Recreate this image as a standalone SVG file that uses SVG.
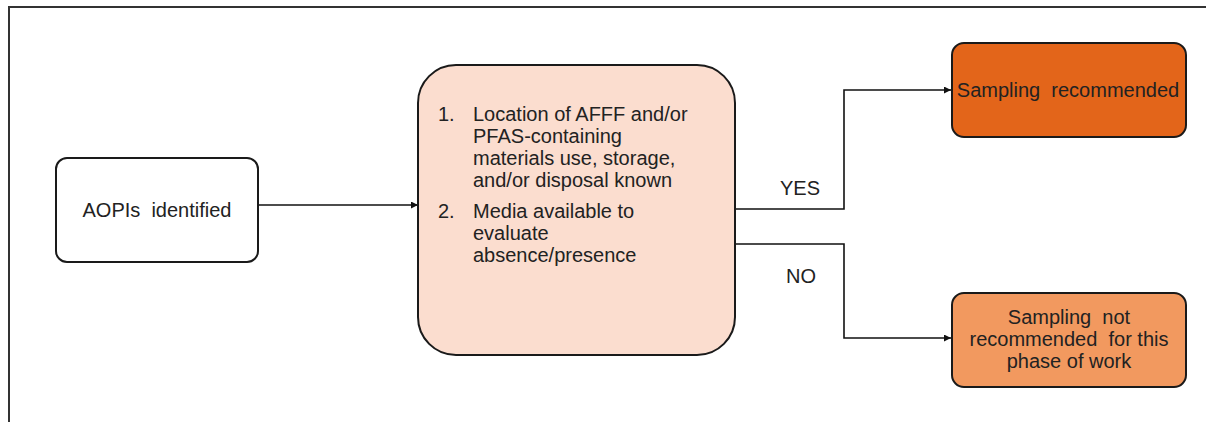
<svg xmlns="http://www.w3.org/2000/svg" width="1206" height="422" viewBox="0 0 1206 422">
  <style>
    .t { font-family: "Liberation Sans", Arial, sans-serif; font-size: 20px; fill: #222; }
    .c { text-anchor: middle; }
    .box { stroke: #1a1a1a; stroke-width: 2; }
    .wire { fill: none; stroke: #111; stroke-width: 1.6; }
  </style>
  <defs>
    <marker id="arrow" viewBox="0 0 10 10" refX="10" refY="5" markerWidth="7" markerHeight="7" markerUnits="userSpaceOnUse" orient="auto">
      <path d="M0,0 L10,5 L0,10 z" fill="#111"/>
    </marker>
  </defs>

  <rect width="1206" height="422" fill="#ffffff"/>
  <!-- frame: top and left edges -->
  <path d="M9,423 L9,7 L1207,7" fill="none" stroke="#333" stroke-width="2"/>

  <g id="connectors">
    <path class="wire" d="M258,205 L418,205" marker-end="url(#arrow)"/>
    <path class="wire" d="M735,209 L844,209 L844,90 L951,90" marker-end="url(#arrow)"/>
    <path class="wire" d="M735,244 L844,244 L844,338 L951,338" marker-end="url(#arrow)"/>
    <text class="t c" x="800" y="195">YES</text>
    <text class="t c" x="801" y="283">NO</text>
  </g>

  <g id="aopis">
    <rect class="box" x="56" y="158" width="202" height="104" rx="11" fill="#ffffff"/>
    <text class="t c" x="157" y="217" style="white-space:pre">AOPIs  identified</text>
  </g>

  <g id="criteria">
    <rect class="box" x="418" y="65" width="317" height="290" rx="38" fill="#fbddcf"/>
    <text class="t" x="438" y="121">1.</text>
    <text class="t" x="473" y="121">Location of AFFF and/or</text>
    <text class="t" x="473" y="143">PFAS-containing</text>
    <text class="t" x="473" y="165">materials use, storage,</text>
    <text class="t" x="473" y="187">and/or disposal known</text>
    <text class="t" x="438" y="218">2.</text>
    <text class="t" x="473" y="218">Media available to</text>
    <text class="t" x="473" y="240">evaluate</text>
    <text class="t" x="473" y="262">absence/presence</text>
  </g>

  <g id="sampling-recommended">
    <rect class="box" x="952" y="43" width="234" height="94" rx="12" fill="#e3651a"/>
    <text class="t c" x="1068" y="97" style="white-space:pre">Sampling  recommended</text>
  </g>

  <g id="sampling-not-recommended">
    <rect class="box" x="952" y="293" width="234" height="94" rx="12" fill="#f2995f"/>
    <text class="t c" x="1069" y="324" style="white-space:pre">Sampling  not</text>
    <text class="t c" x="1069" y="346" style="white-space:pre">recommended  for this</text>
    <text class="t c" x="1069" y="368">phase of work</text>
  </g>
</svg>
